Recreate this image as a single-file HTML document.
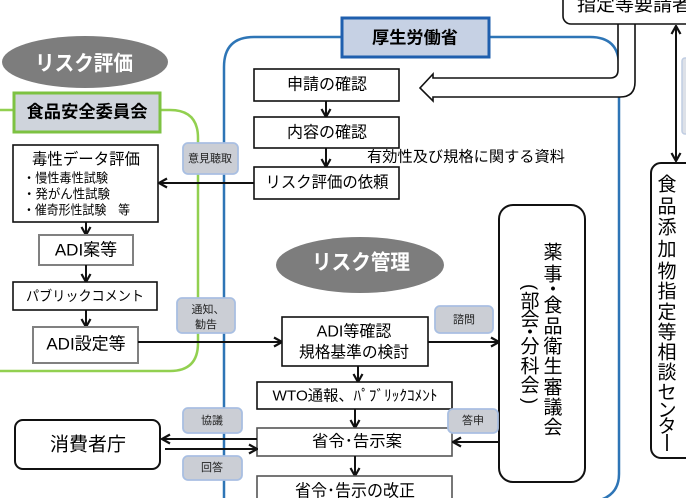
<!DOCTYPE html>
<html><head><meta charset="utf-8"><style>
html,body{margin:0;padding:0;background:#fff;width:686px;height:498px;overflow:hidden}
text{font-family:"Liberation Sans","Noto Sans CJK JP",sans-serif}
.c{text-anchor:middle;dominant-baseline:central}
.b{fill:#fff;stroke:#111;stroke-width:1.6}
.g{fill:#fff;stroke:#808080;stroke-width:2}
.gd{fill:#fff;stroke:#555;stroke-width:1.6}
.l{fill:#cbced5;stroke:#a9bfe2;stroke-width:1.8}
.ln{stroke:#111;stroke-width:2;fill:none}
.lt{font-size:11px;fill:#222}
</style></head><body>
<svg width="686" height="498" viewBox="0 0 686 498" xmlns="http://www.w3.org/2000/svg">
<defs>
<marker id="m" markerUnits="userSpaceOnUse" markerWidth="12" markerHeight="12" viewBox="0 0 12 12" refX="11" refY="6" orient="auto-start-reverse">
<path d="M3,1.5 L11,6 L3,10.5" fill="none" stroke="#111" stroke-width="2.2"/>
</marker>
</defs>

<!-- green region -->
<path d="M0,110 H170 Q198,110 198,138 V343 Q198,371 170,371 H0" stroke="#92d050" stroke-width="2.5" fill="none"/>
<!-- blue region -->
<path d="M342,37 H254 Q224,37 224,67 V520" stroke="#2e75b6" stroke-width="2.5" fill="none"/>
<path d="M489,37 H590 Q619,37 619,66 V474 Q619,494 600,500" stroke="#2e75b6" stroke-width="2.5" fill="none"/>

<!-- hollow arrow -->
<path d="M618,22 V70 Q618,78 610,78 H433 V74 L420,88 L433,101 V97 H620 Q635,97 635,82 V22" fill="#fff" stroke="#111" stroke-width="1.6"/>
<!-- top box -->
<rect x="563" y="-20" width="150" height="44" rx="8" class="b"/>
<text x="577" y="11" font-size="18" textLength="114" lengthAdjust="spacingAndGlyphs">指定等要請者</text>

<!-- right double arrow -->
<line x1="676" y1="26" x2="676" y2="161" class="ln" marker-start="url(#m)" marker-end="url(#m)"/>
<rect x="682" y="58" width="12" height="76" rx="3" fill="#dde1e8" stroke="#c0cde2" stroke-width="1.5"/>

<!-- right box -->
<rect x="651" y="163" width="60" height="295" rx="10" class="b" style="stroke-width:2"/>
<g font-size="19">
<text x="667" y="185" class="c">食</text>
<text x="667" y="207" class="c">品</text>
<text x="667" y="228" class="c">添</text>
<text x="667" y="250" class="c">加</text>
<text x="667" y="272" class="c">物</text>
<text x="667" y="292" class="c">指</text>
<text x="667" y="313" class="c">定</text>
<text x="667" y="333" class="c">等</text>
<text x="667" y="353" class="c">相</text>
<text x="667" y="373" class="c">談</text>
<text x="667" y="393" class="c">セ</text>
<text x="667" y="411" class="c">ン</text>
<text x="667" y="427" class="c">タ</text>
</g>
<line x1="667" y1="434" x2="667" y2="451" stroke="#111" stroke-width="1.8"/>

<!-- リスク評価 ellipse -->
<ellipse cx="85" cy="62" rx="83" ry="26" fill="#7d7d7d"/>
<text x="84" y="64" class="c" font-size="21" font-weight="bold" fill="#fff" textLength="98" lengthAdjust="spacingAndGlyphs">リスク評価</text>

<!-- 食品安全委員会 -->
<rect x="14" y="93" width="146" height="39" fill="#cfd4dc" stroke="#7dc242" stroke-width="3"/>
<text x="87" y="112" class="c" font-size="17" font-weight="bold" textLength="121" lengthAdjust="spacingAndGlyphs">食品安全委員会</text>

<!-- 毒性データ評価 -->
<rect x="13" y="145" width="145" height="77" class="b"/>
<text x="86" y="160" class="c" font-size="16" textLength="108" lengthAdjust="spacingAndGlyphs">毒性データ評価</text>
<text x="23" y="178" font-size="13" dominant-baseline="central" textLength="85" lengthAdjust="spacingAndGlyphs">・慢性毒性試験</text>
<text x="23" y="194" font-size="13" dominant-baseline="central" textLength="87" lengthAdjust="spacingAndGlyphs">・発がん性試験</text>
<text x="23" y="210" font-size="13" dominant-baseline="central" textLength="107" lengthAdjust="spacingAndGlyphs">・催奇形性試験　等</text>

<line x1="86" y1="222" x2="86" y2="235" class="ln" marker-end="url(#m)"/>
<rect x="39" y="235" width="94" height="30" class="g"/>
<text x="86" y="250" class="c" font-size="17">ADI案等</text>
<line x1="86" y1="265" x2="86" y2="282" class="ln" marker-end="url(#m)"/>
<rect x="13" y="282" width="144" height="28" class="b"/>
<text x="85" y="296" class="c" font-size="14" textLength="118" lengthAdjust="spacingAndGlyphs">パブリックコメント</text>
<line x1="86" y1="310" x2="86" y2="327" class="ln" marker-end="url(#m)"/>
<rect x="33" y="327" width="105" height="36" class="g"/>
<text x="86" y="344" class="c" font-size="17">ADI設定等</text>

<!-- arrow ADI設定等 -> ADI等確認 -->
<line x1="138" y1="342" x2="282" y2="342" class="ln" marker-end="url(#m)"/>
<!-- arrow 依頼 -> 毒性 -->
<line x1="254" y1="183" x2="159" y2="183" class="ln" marker-end="url(#m)"/>

<!-- 厚生労働省 -->
<rect x="342" y="18" width="147" height="39" fill="#c6d1e4" stroke="#1f5fae" stroke-width="3"/>
<text x="415" y="38" class="c" font-size="17" font-weight="bold" textLength="86" lengthAdjust="spacingAndGlyphs">厚生労働省</text>

<rect x="254" y="69" width="145" height="32" class="b"/>
<text x="327" y="85" class="c" font-size="16">申請の確認</text>
<line x1="326" y1="101" x2="326" y2="117" class="ln" marker-end="url(#m)"/>
<rect x="254" y="117" width="145" height="31" class="b"/>
<text x="327" y="133" class="c" font-size="16">内容の確認</text>
<line x1="326" y1="148" x2="326" y2="167" class="ln" marker-end="url(#m)"/>
<rect x="254" y="167" width="145" height="32" class="b"/>
<text x="327" y="183" class="c" font-size="16" textLength="123" lengthAdjust="spacingAndGlyphs">リスク評価の依頼</text>
<text x="367" y="157" font-size="15" dominant-baseline="central" textLength="198" lengthAdjust="spacingAndGlyphs">有効性及び規格に関する資料</text>

<!-- リスク管理 -->
<ellipse cx="360" cy="265" rx="84" ry="28" fill="#7d7d7d"/>
<text x="361" y="263" class="c" font-size="21" font-weight="bold" fill="#fff" textLength="98" lengthAdjust="spacingAndGlyphs">リスク管理</text>

<rect x="282" y="317" width="146" height="49" class="b"/>
<text x="354" y="332" class="c" font-size="16">ADI等確認</text>
<text x="354" y="353" class="c" font-size="16" textLength="110" lengthAdjust="spacingAndGlyphs">規格基準の検討</text>
<line x1="428" y1="342" x2="499" y2="342" class="ln" marker-end="url(#m)"/>
<line x1="358" y1="366" x2="358" y2="382" class="ln" marker-end="url(#m)"/>

<rect x="257" y="382" width="195" height="27" class="b"/>
<text x="355" y="396" class="c" font-size="15" textLength="165" lengthAdjust="spacingAndGlyphs">WTO通報、ﾊﾟﾌﾞﾘｯｸｺﾒﾝﾄ</text>
<line x1="355" y1="409" x2="355" y2="428" class="ln" marker-end="url(#m)"/>
<rect x="257" y="428" width="195" height="28" class="gd"/>
<text x="357" y="442" class="c" font-size="16" textLength="90" lengthAdjust="spacingAndGlyphs">省令･告示案</text>
<line x1="355" y1="456" x2="355" y2="476" class="ln" marker-end="url(#m)"/>
<rect x="257" y="476" width="195" height="40" class="gd"/>
<text x="355" y="491" class="c" font-size="17" textLength="120" lengthAdjust="spacingAndGlyphs">省令･告示の改正</text>

<!-- 薬事 box -->
<rect x="499" y="205" width="86" height="277" rx="14" class="b" style="stroke-width:2"/>
<line x1="499" y1="442" x2="453" y2="442" class="ln" marker-end="url(#m)"/>
<g font-size="19">
<text x="553" y="253" class="c">薬</text>
<text x="553" y="275" class="c">事</text>
<text x="553" y="290" class="c">・</text>
<text x="553" y="306" class="c">食</text>
<text x="553" y="327" class="c">品</text>
<text x="553" y="347" class="c">衛</text>
<text x="553" y="367" class="c">生</text>
<text x="553" y="388" class="c">審</text>
<text x="553" y="408" class="c">議</text>
<text x="553" y="428" class="c">会</text>
<text x="530" y="302" class="c">部</text>
<text x="530" y="320" class="c">会</text>
<text x="530" y="333" class="c">・</text>
<text x="530" y="347" class="c">分</text>
<text x="530" y="367" class="c">科</text>
<text x="530" y="386" class="c">会</text>
</g>
<text class="c" font-size="18" transform="translate(530,287) rotate(90)" style="font-family:'Liberation Sans',sans-serif">(</text>
<text class="c" font-size="18" transform="translate(530,401) rotate(90)" style="font-family:'Liberation Sans',sans-serif">)</text>

<!-- 消費者庁 -->
<rect x="15" y="420" width="145" height="49" rx="8" class="b" style="stroke-width:2"/>
<text x="88" y="445" class="c" font-size="19">消費者庁</text>
<line x1="257" y1="439" x2="162" y2="439" class="ln" marker-end="url(#m)"/>
<line x1="165" y1="449" x2="257" y2="449" class="ln" marker-end="url(#m)"/>

<!-- labels -->
<rect x="183" y="143" width="55" height="31" rx="5" class="l"/>
<text x="210" y="159" class="c lt">意見聴取</text>
<rect x="177" y="298" width="58" height="35" rx="5" class="l"/>
<text x="208" y="310" class="c lt">通知、</text>
<text x="206" y="325" class="c lt">勧告</text>
<rect x="435" y="306" width="58" height="27" rx="5" class="l"/>
<text x="464" y="320" class="c lt">諮問</text>
<rect x="448" y="409" width="50" height="24" rx="5" class="l"/>
<text x="473" y="421" class="c lt">答申</text>
<rect x="183" y="408" width="59" height="25" rx="5" class="l"/>
<text x="212" y="421" class="c lt">協議</text>
<rect x="183" y="456" width="59" height="24" rx="5" class="l"/>
<text x="212" y="468" class="c lt">回答</text>
</svg>
</body></html>
